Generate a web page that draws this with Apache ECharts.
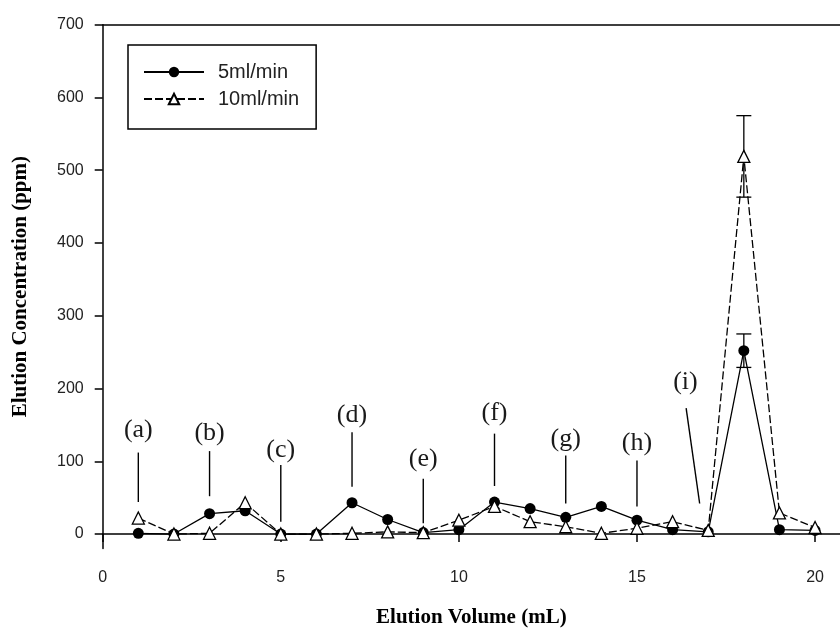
<!DOCTYPE html>
<html>
<head>
<meta charset="utf-8">
<title>Elution profile</title>
<script src="https://cdn.jsdelivr.net/npm/echarts@6/dist/echarts.min.js"></script>
<style>
  html, body { margin: 0; padding: 0; background: #fff; }
  #chart { width: 840px; height: 632px; }
</style>
</head>
<body>
<div id="chart"></div>
<script>
// Elution volume (mL) of each collected fraction
const volume = [1, 2, 3, 4, 5, 6, 7, 8, 9, 10, 11, 12, 13, 14, 15, 16, 17, 18, 19, 20];
// Elution concentration (ppm) at 5 ml/min
const rate5 = [1, 0, 28, 32, 0, 0, 43, 20, 2, 6, 44, 35, 23, 38, 19, 6, 3, 252, 6, 5];
// Elution concentration (ppm) at 10 ml/min
const rate10 = [22, 0, 1, 43, 0, 0, 1, 3, 2, 19, 38, 17, 10, 1, 8, 17, 5, 519, 29, 9];

// Standard deviation at the main peak
const errVolume = [18];
const err5 = [23];
const err10 = [56];

// Peak labels with their pointer lines (data units)
const peakNames = ['(a)', '(b)', '(c)', '(d)', '(e)', '(f)', '(g)', '(h)', '(i)'];
const peakTextX = [1, 3, 5, 7, 9, 11, 13, 15, 16.36];
const peakTextY = [143, 139, 115, 163, 103, 166, 131, 125, 209];
const pointerX1 = [1, 3, 5, 7, 9, 11, 13, 15, 16.38];
const pointerY1 = [112, 114, 95, 140, 76, 138, 108, 101, 173];
const pointerX2 = [1, 3, 5, 7, 9, 11, 13, 15, 16.76];
const pointerY2 = [44, 52, 17, 65, 15, 66, 42, 38, 42];

const xTicks = [0, 5, 10, 15, 20];
const yTicks = [0, 100, 200, 300, 400, 500, 600, 700];

const SANS = '"Liberation Sans", Arial, sans-serif';
const SERIF = '"Liberation Serif", "Times New Roman", serif';

const chart = echarts.init(document.getElementById('chart'), null, { renderer: 'canvas' });

const series5 = volume.map((v, i) => [v, rate5[i]]);
const series10 = volume.map((v, i) => [v, rate10[i]]);
const errData5 = errVolume.map((v, i) => [v, rate5[volume.indexOf(v)] - err5[i], rate5[volume.indexOf(v)] + err5[i]]);
const errData10 = errVolume.map((v, i) => [v, rate10[volume.indexOf(v)] - err10[i], rate10[volume.indexOf(v)] + err10[i]]);
const peakData = peakNames.map((n, i) => [pointerX1[i], pointerY1[i], pointerX2[i], pointerY2[i], peakTextX[i], peakTextY[i], n]);

function renderErrorBar(params, api) {
  const x = api.value(0);
  const lo = api.coord([x, api.value(1)]);
  const hi = api.coord([x, api.value(2)]);
  const half = 7.5;
  const style = { stroke: '#000', lineWidth: 1.3, fill: null };
  return {
    type: 'group',
    children: [
      { type: 'line', shape: { x1: lo[0], y1: lo[1], x2: hi[0], y2: hi[1] }, style },
      { type: 'line', shape: { x1: hi[0] - half, y1: hi[1], x2: hi[0] + half, y2: hi[1] }, style },
      { type: 'line', shape: { x1: lo[0] - half, y1: lo[1], x2: lo[0] + half, y2: lo[1] }, style }
    ]
  };
}

function renderPeak(params, api) {
  const p1 = api.coord([api.value(0), api.value(1)]);
  const p2 = api.coord([api.value(2), api.value(3)]);
  const t = api.coord([api.value(4), api.value(5)]);
  return {
    type: 'group',
    children: [
      { type: 'line', shape: { x1: p1[0], y1: p1[1], x2: p2[0], y2: p2[1] },
        style: { stroke: '#000', lineWidth: 1.4 } },
      { type: 'text', x: t[0], y: t[1],
        style: { text: peakNames[params.dataIndex], font: '26px ' + SERIF, fill: '#1a1a1a',
                 align: 'center', verticalAlign: 'middle' } }
    ]
  };
}

const option = {
  backgroundColor: '#fff',
  animation: false,
  grid: { left: 102.7, right: 0, top: 24.7, bottom: 83.4, containLabel: false, outerBoundsMode: 'none' },
  legend: {
    orient: 'vertical',
    left: 128,
    top: 45,
    itemWidth: 60,
    itemHeight: 13,
    itemGap: 7,
    padding: [17, 17, 20, 15],
    borderColor: '#000',
    borderWidth: 1.5,
    textStyle: { fontFamily: SANS, fontSize: 20, color: '#222', padding: [0, 0, 0, 9] },
    data: ['5ml/min', '10ml/min']
  },
  xAxis: [
    {
      type: 'value',
      min: 0,
      max: 20.7,
      name: 'Elution Volume (mL)',
      nameLocation: 'middle',
      nameGap: 58,
      nameTextStyle: { fontFamily: SERIF, fontWeight: 'bold', fontSize: 21, color: '#000' },
      axisLine: { lineStyle: { color: '#000', width: 1.5 } },
      axisTick: { show: true, length: 8, lineStyle: { color: '#000', width: 1.5 }, customValues: xTicks },
      axisLabel: { fontFamily: SANS, fontSize: 16, color: '#222', margin: 21, customValues: xTicks },
      splitLine: { show: false }
    },
    {
      type: 'value',
      position: 'top',
      min: 0,
      max: 20.7,
      axisLine: { show: true, lineStyle: { color: '#000', width: 1.5 } },
      axisTick: { show: false },
      axisLabel: { show: false },
      splitLine: { show: false }
    }
  ],
  yAxis: {
    type: 'value',
    min: -20,
    max: 700,
    name: 'Elution Concentration (ppm)',
    nameLocation: 'middle',
    nameGap: 72,
    nameTextStyle: { fontFamily: SERIF, fontWeight: 'bold', fontSize: 21, color: '#000' },
    axisLine: { show: true, lineStyle: { color: '#000', width: 1.5 } },
    axisTick: { show: true, length: 8, lineStyle: { color: '#000', width: 1.5 }, customValues: yTicks },
    axisLabel: { fontFamily: SANS, fontSize: 16, color: '#222', margin: 19, customValues: yTicks },
    splitLine: { show: false }
  },
  series: [
    {
      name: '5ml/min',
      type: 'line',
      data: series5,
      symbol: 'circle',
      symbolSize: 11,
      itemStyle: { color: '#000' },
      lineStyle: { color: '#000', width: 1.3, type: 'solid' },
      z: 3
    },
    {
      name: '10ml/min',
      type: 'line',
      data: series10,
      symbol: 'triangle',
      symbolSize: 12,
      itemStyle: { color: '#fff', borderColor: '#000', borderWidth: 1.3 },
      lineStyle: { color: '#000', width: 1.3, type: [8, 3] },
      z: 4
    },
    {
      name: 'sd5',
      type: 'custom',
      renderItem: renderErrorBar,
      data: errData5,
      encode: { x: 0, y: [1, 2] },
      z: 2
    },
    {
      name: 'sd10',
      type: 'custom',
      renderItem: renderErrorBar,
      data: errData10,
      encode: { x: 0, y: [1, 2] },
      z: 2
    },
    {
      name: 'peaks',
      type: 'custom',
      renderItem: renderPeak,
      data: peakData,
      encode: { x: [0, 2, 4], y: [1, 3, 5] },
      z: 1
    }
  ]
};

chart.setOption(option);
</script>
</body>
</html>
